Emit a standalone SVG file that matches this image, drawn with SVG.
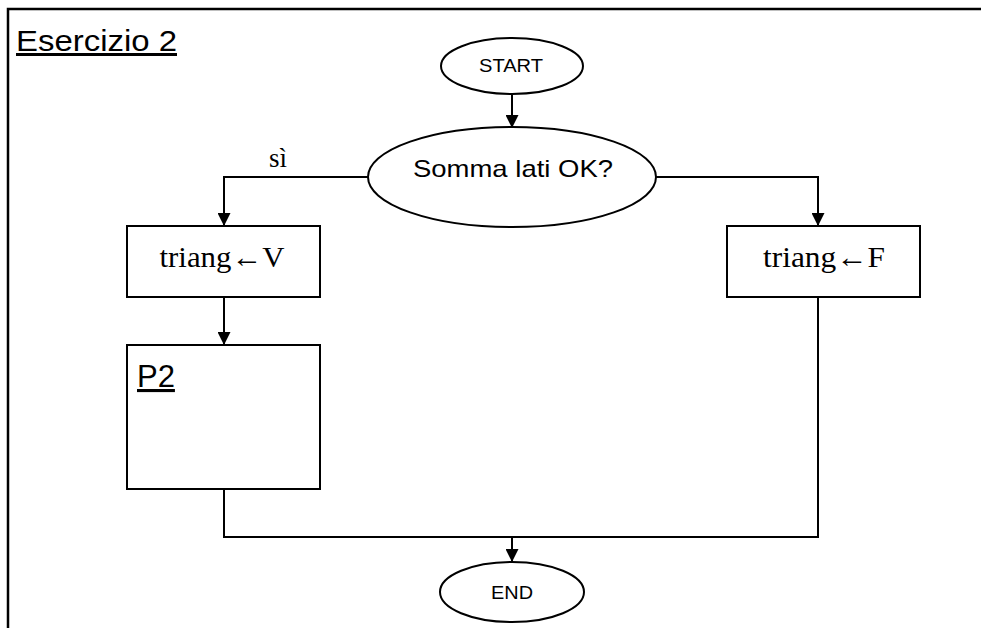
<svg xmlns="http://www.w3.org/2000/svg" width="981" height="628" viewBox="0 0 981 628">
  <defs>
    <marker id="arrow" viewBox="0 0 10 10" refX="10" refY="5" markerWidth="13" markerHeight="13" markerUnits="userSpaceOnUse" orient="auto">
      <path d="M0,0 L10,5 L0,10 Z" fill="#000"/>
    </marker>
    <style>
      .shape { fill: #fff; stroke: #000; stroke-width: 2; }
      .line { fill: none; stroke: #000; stroke-width: 2; }
      .sans { font-family: "Liberation Sans", Arial, sans-serif; fill: #000; }
      .serif { font-family: "Liberation Serif", "Times New Roman", serif; fill: #000; }
    </style>
  </defs>

  <rect width="981" height="628" fill="#fff"/>

  <!-- open frame: top and left edges -->
  <path d="M8,628 L8,9 L981,9" fill="none" stroke="#000" stroke-width="2.5"/>

  <!-- title -->
  <text x="16" y="51" class="sans" font-size="30" textLength="161" lengthAdjust="spacingAndGlyphs" text-decoration="underline">Esercizio 2</text>

  <!-- connectors -->
  <g id="connectors">
    <path class="line" d="M512,95 L512,128" marker-end="url(#arrow)"/>
    <path class="line" d="M368,177 L224,177 L224,226" marker-end="url(#arrow)"/>
    <path class="line" d="M656,177 L818,177 L818,226" marker-end="url(#arrow)"/>
    <path class="line" d="M224,297 L224,345" marker-end="url(#arrow)"/>
    <path class="line" d="M224,489 L224,537 L818,537 L818,297"/>
    <path class="line" d="M512,537 L512,562" marker-end="url(#arrow)"/>
    <text x="278" y="167" class="serif" font-size="27" text-anchor="middle">sì</text>
  </g>

  <g id="start">
    <ellipse class="shape" cx="512" cy="66" rx="71" ry="28"/>
    <text x="511" y="72" class="sans" font-size="19" textLength="64" lengthAdjust="spacingAndGlyphs" text-anchor="middle">START</text>
  </g>

  <g id="decision">
    <ellipse class="shape" cx="512" cy="177" rx="144" ry="50"/>
    <text x="513" y="177" class="sans" font-size="24" textLength="200" lengthAdjust="spacingAndGlyphs" text-anchor="middle">Somma lati OK?</text>
  </g>

  <g id="assignV">
    <rect class="shape" x="127" y="226" width="193" height="71"/>
    <text x="222" y="267" class="serif" font-size="30" textLength="125" lengthAdjust="spacingAndGlyphs" text-anchor="middle">triang←V</text>
  </g>

  <g id="assignF">
    <rect class="shape" x="727" y="226" width="193" height="71"/>
    <text x="824" y="267" class="serif" font-size="30" textLength="122" lengthAdjust="spacingAndGlyphs" text-anchor="middle">triang←F</text>
  </g>

  <g id="p2">
    <rect class="shape" x="127" y="345" width="193" height="144"/>
    <text x="137" y="387" class="sans" font-size="31" text-decoration="underline">P2</text>
  </g>

  <g id="end">
    <ellipse class="shape" cx="512" cy="592" rx="72" ry="30"/>
    <text x="512" y="599" class="sans" font-size="19" textLength="42" lengthAdjust="spacingAndGlyphs" text-anchor="middle">END</text>
  </g>
</svg>
